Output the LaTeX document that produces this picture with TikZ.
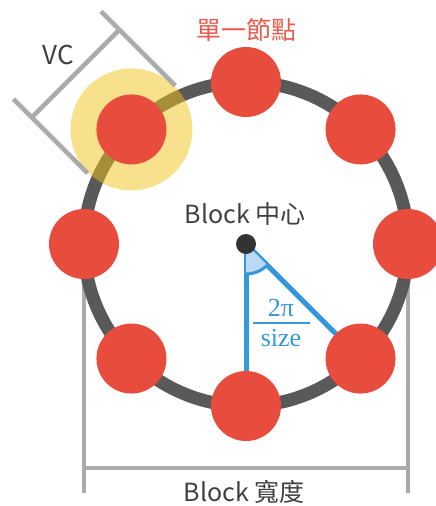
\documentclass[tikz,border=0pt]{standalone}
\usepackage{fontspec}
\newfontfamily\cjk{Noto Sans CJK TC}
\newfontfamily\grserif{Liberation Serif}
\definecolor{ringgray}{HTML}{595959}
\definecolor{nodered}{HTML}{E74C3C}
\definecolor{labelred}{HTML}{EA5A4E}
\definecolor{dimgray}{HTML}{ABABAB}
\definecolor{blueline}{HTML}{3498DB}
\definecolor{bluefill}{HTML}{BBD9F2}
\definecolor{halo}{RGB}{240,196,25}
\definecolor{txt}{HTML}{404040}
\definecolor{dotc}{HTML}{333333}
\begin{document}
\begin{tikzpicture}[x=1pt,y=-1pt,
  member/.style={circle, fill=nodered, minimum size=70pt, inner sep=0pt},
  dimline/.style={draw=dimgray, line width=4.5pt},
  radline/.style={draw=blueline, line width=5pt},
  cjklabel/.style={font=\cjk\fontsize{25}{30}\selectfont, inner sep=0pt},
  fraclabel/.style={font=\grserif\fontsize{26}{30}\selectfont, text=blueline, inner sep=0pt}]
\useasboundingbox (0,0) rectangle (436,506);
\coordinate (C) at (246,244);
\foreach \a in {0,45,90,135,180,225,270,315}{
  \path (C) ++(\a:162) coordinate (p\a);
}
% block width dimension
\coordinate (lowY) at (0,493);
\coordinate (dimY) at (0,468);
\draw[dimline] (p180) -- (p180 |- lowY);
\draw[dimline] (p0) -- (p0 |- lowY);
\draw[dimline] (p180 |- dimY) -- (p0 |- dimY);
% ring
\draw[ringgray, line width=13pt] (C) circle[radius=162];
% blue radii and angle
\draw[radline] (C) -- (p90);
\draw[radline] (C) -- (p45);
\fill[bluefill] (C) -- ++(45:30) arc[start angle=45, end angle=90, radius=30] -- cycle;
\draw[blueline, line width=3pt] (C) ++(45:30) arc[start angle=45, end angle=90, radius=30];
% halo
\fill[halo, fill opacity=0.5] (p225) circle[radius=61];
% VC bracket
\path (p225) ++(-43.84,43.84) coordinate (e1a) (p225) ++(-118.09,-30.41) coordinate (e1b)
      (p225) ++(43.84,-43.84) coordinate (e2a) (p225) ++(-30.41,-118.09) coordinate (e2b)
      (p225) ++(-99.7,-12.02) coordinate (m1) (p225) ++(-12.02,-99.7) coordinate (m2);
\draw[dimline] (e1a) -- (e1b);
\draw[dimline] (e2a) -- (e2b);
\draw[dimline] (m1) -- (m2);
% members
\foreach \a in {0,45,90,135,180,225,270,315}{
  \node[member] (n\a) at (p\a) {};
}
% center dot
\fill[dotc] (C) circle[radius=10];
% labels
\node[cjklabel, text=txt, font=\cjk\fontsize{26}{30}\selectfont] (vc) at (58,55) {VC};
\node[cjklabel, text=labelred] (single) at (246,30) {單一節點};
\node[cjklabel, text=txt] (center) at (245,214) {Block 中心};
\node[cjklabel, text=txt] (width) at (244,492) {Block 寬度};
\node[fraclabel] (num) at (281,308) {2π};
\node[fraclabel] (den) at (281,338) {size};
\coordinate (barL) at (253,323);
\coordinate (barR) at (310,323);
\draw[blueline, line width=2.5pt] (barL) -- (barR);
\end{tikzpicture}
\end{document}
